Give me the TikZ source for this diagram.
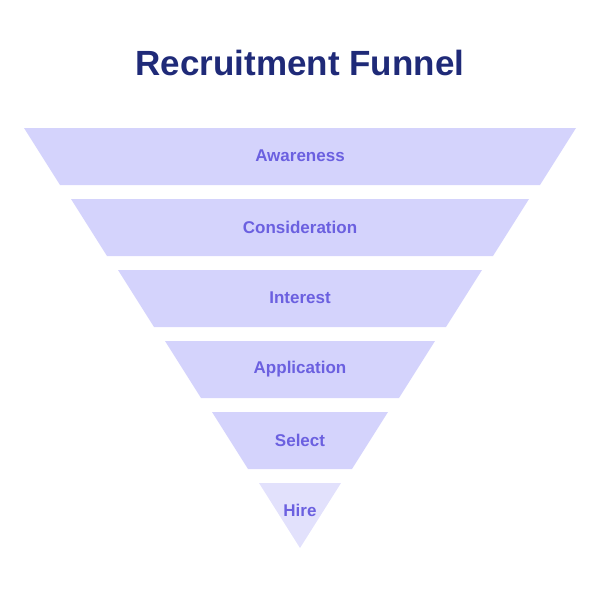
\documentclass[tikz,border=0pt]{standalone}
\usepackage{fontspec}
\setmainfont{Liberation Sans}
\definecolor{band}{HTML}{D4D3FC}
\definecolor{bandlight}{HTML}{E2E1FC}
\definecolor{lbl}{HTML}{6B60E0}
\definecolor{ttl}{HTML}{1F2A78}
\begin{document}
\begin{tikzpicture}[x=1pt,y=-1pt,
  lab/.style={font=\bfseries\fontsize{17}{20}\selectfont,text=lbl},
  title/.style={font=\bfseries\fontsize{35}{40}\selectfont,text=ttl}]
\useasboundingbox (0,0) rectangle (600,600);
\node[title] (t) at (300,63) {Recruitment Funnel};
\foreach \n/\ya/\xa/\txt in {1/128/24/Awareness,2/199/71/Consideration,3/270/118/Interest,4/341/165/Application,5/412/212/Select}{
  \fill[band] (\xa,\ya) -- ({600-\xa},\ya) -- ({600-\xa-36},{\ya+57}) -- ({\xa+36},{\ya+57}) -- cycle;
  \node[lab] (b\n) at (300,{\ya+28}) {\txt};
}
\fill[bandlight] (259,483) -- (341,483) -- (300,548) -- cycle;
\node[lab] (b6) at (300,510) {Hire};
\end{tikzpicture}
\end{document}
